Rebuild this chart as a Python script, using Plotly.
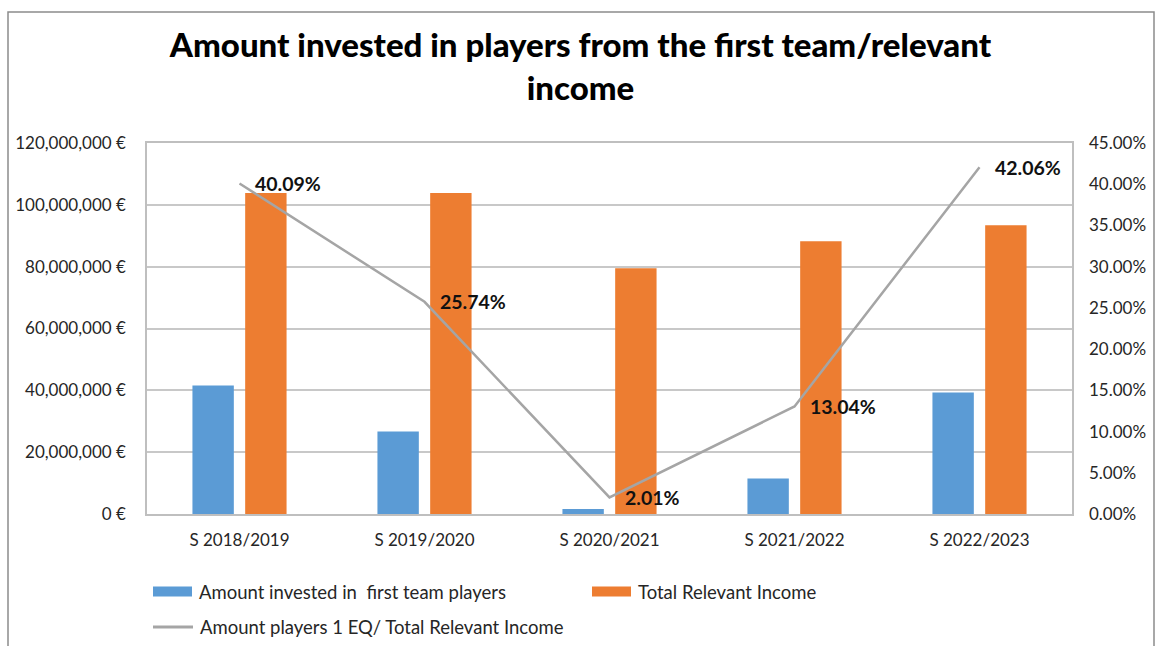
import plotly.graph_objects as go

# Seasons and series values
seasons = ["S 2018/2019", "S 2019/2020", "S 2020/2021", "S 2021/2022", "S 2022/2023"]
invested = [41.6e6, 26.72e6, 1.60e6, 11.5e6, 39.28e6]          # Amount invested in first team players (€)
income = [103.8e6, 103.8e6, 79.5e6, 88.2e6, 93.4e6]             # Total Relevant Income (€)
ratio_pct = [40.09, 25.74, 2.01, 13.04, 42.06]                  # Amount players 1 EQ / Total Relevant Income (%)

series_names = [
    "Amount invested in  first team players",
    "Total Relevant Income",
    "Amount players 1 EQ/ Total Relevant Income",
]

BLUE = "#5B9BD5"
ORANGE = "#ED7D31"
GREY = "#A5A5A5"
FONT = "Lato"

W, H = 1161, 646
ML, MR, MT, MB = 147, 89, 143, 132
PW, PH = W - ML - MR, H - MT - MB


def px_x(px):
    return (px - ML) / PW


def px_y(py):
    return (H - MB - py) / PH


fig = go.Figure()
fig.add_trace(go.Bar(x=seasons, y=invested, name=series_names[0],
                     marker=dict(color=BLUE, line=dict(width=0)), showlegend=False))
fig.add_trace(go.Bar(x=seasons, y=income, name=series_names[1],
                     marker=dict(color=ORANGE, line=dict(width=0)), showlegend=False))
fig.add_trace(go.Scatter(x=seasons, y=ratio_pct, name=series_names[2], yaxis="y2",
                         mode="lines", line=dict(color=GREY, width=2.5), showlegend=False))

# Value labels for the ratio line
annotations = []
for s, v in zip(seasons, ratio_pct):
    annotations.append(dict(x=s, y=v, xref="x", yref="y2", text=f"<b>{v:.2f}%</b>",
                            showarrow=False, xanchor="left", yanchor="middle", xshift=13,
                            font=dict(family=FONT, size=19.5, color="#111111")))

# Legend drawn below the plot
shapes = []
leg_font = dict(family=FONT, size=18.5, color="#262626")
legend_items = [
    (series_names[0], "rect", BLUE, 153, 192, 591.5),
    (series_names[1], "rect", ORANGE, 592, 631, 591.5),
    (series_names[2], "line", GREY, 153, 193, 627),
]
for name, kind, col, x0, x1, yc in legend_items:
    if kind == "rect":
        shapes.append(dict(type="rect", xref="paper", yref="paper",
                           x0=px_x(x0), x1=px_x(x1), y0=px_y(yc + 5), y1=px_y(yc - 5),
                           fillcolor=col, line=dict(width=0)))
    else:
        shapes.append(dict(type="line", xref="paper", yref="paper",
                           x0=px_x(x0), x1=px_x(x1), y0=px_y(yc), y1=px_y(yc),
                           line=dict(color=col, width=3)))
    annotations.append(dict(x=px_x(x1 + 5), y=px_y(yc), xref="paper", yref="paper",
                            text=name, showarrow=False, xanchor="left", yanchor="middle",
                            font=leg_font))

# Outer chart frame (open at the bottom edge of the page)
shapes.append(dict(type="rect", xref="paper", yref="paper",
                   x0=px_x(8), x1=px_x(1154), y0=px_y(H + 20), y1=px_y(12),
                   line=dict(color="#8c8c8c", width=1.5), fillcolor="rgba(0,0,0,0)", layer="below"))

fig.update_layout(
    width=W, height=H,
    margin=dict(l=ML, r=MR, t=MT, b=MB),
    paper_bgcolor="white", plot_bgcolor="white",
    barmode="group", bargap=0.43, bargroupgap=0.215,
    title=dict(text="Amount invested in players from the first team/relevant<br>income",
               x=0.5, xanchor="center", xref="container",
               y=1 - 57 / H, yanchor="middle", yref="container",
               font=dict(family=FONT, size=33, weight=900, color="#000000")),
    font=dict(family=FONT, size=17, color="#262626"),
    xaxis=dict(type="category", showgrid=False, showline=True, mirror=True,
               linecolor="#bfbfbf", linewidth=1.5, ticks="", ticklabelstandoff=10,
               tickfont=dict(family=FONT, size=17, color="#262626")),
    yaxis=dict(range=[0, 120e6], dtick=20e6, tickformat=",.0f", ticksuffix=" €",
               showgrid=True, gridcolor="#c8c8c8", gridwidth=1.5,
               showline=True, mirror=True, linecolor="#bfbfbf", linewidth=1.5,
               zeroline=False, ticks="", ticklabelstandoff=16,
               tickfont=dict(family=FONT, size=17, color="#262626")),
    yaxis2=dict(range=[0, 45], dtick=5, tickformat=".2f", ticksuffix="%",
                overlaying="y", side="right", showgrid=False, zeroline=False,
                showline=False, ticks="", ticklabelstandoff=16,
                tickfont=dict(family=FONT, size=17, color="#262626")),
    shapes=shapes,
    annotations=annotations,
    showlegend=False,
)

fig.write_html("out.html")
